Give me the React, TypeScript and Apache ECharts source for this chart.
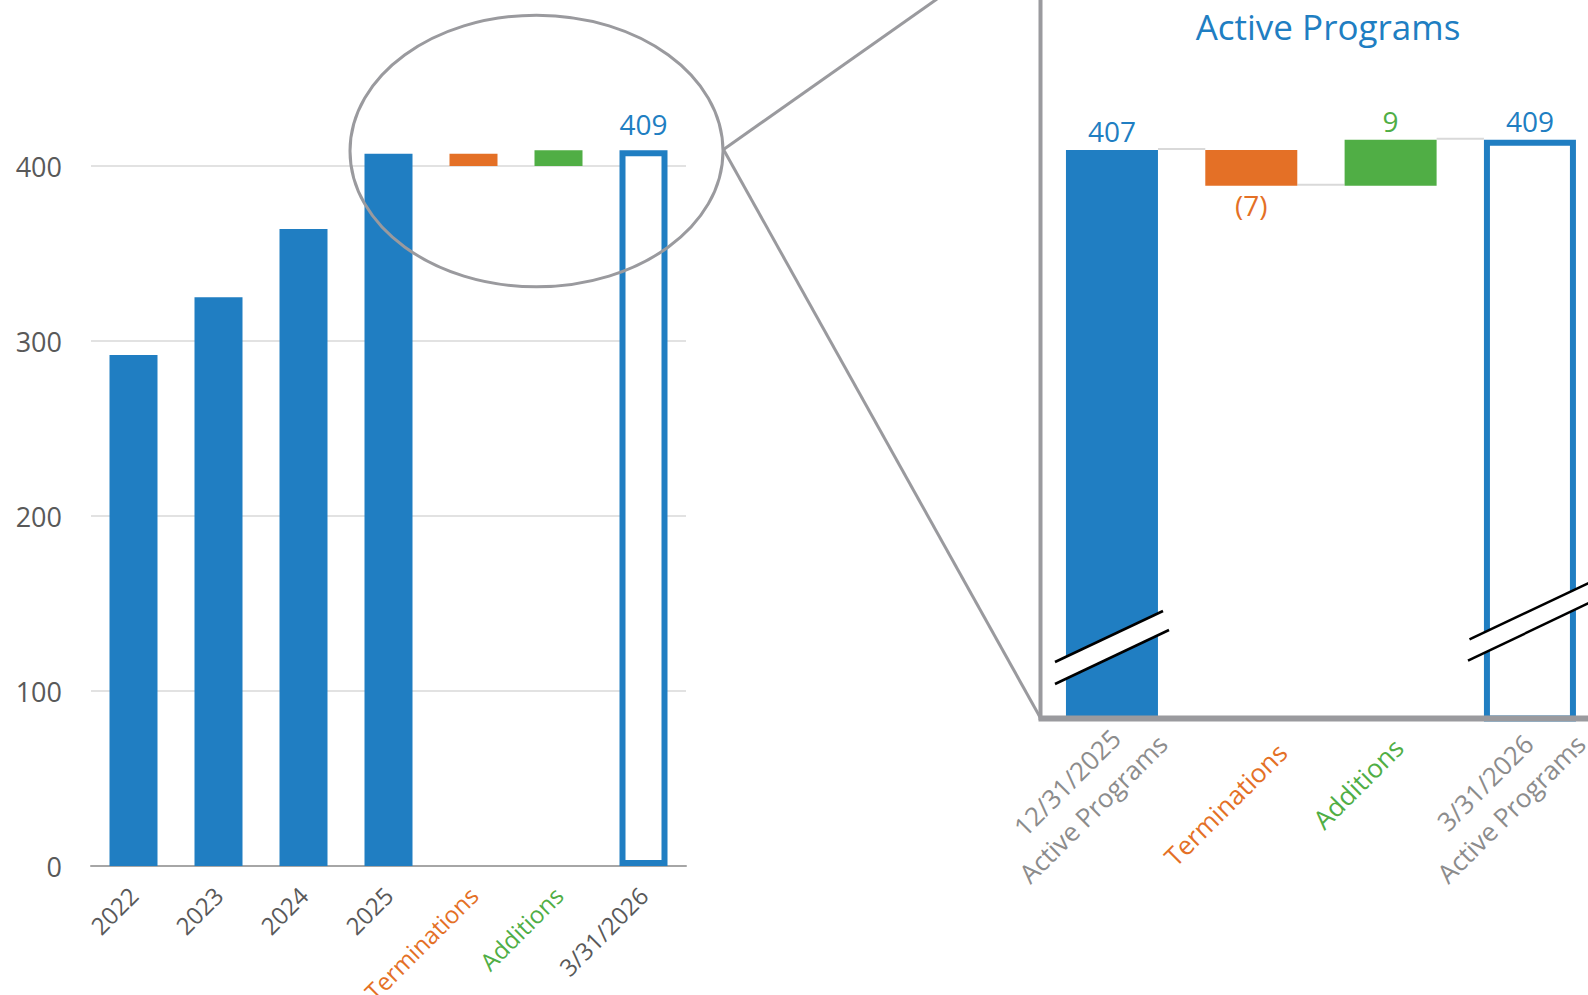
import React, { useEffect, useRef } from 'react';
import * as echarts from 'echarts';

// ---------- data ----------
const yearLabels = ['2022', '2023', '2024', '2025'];
const yearTotals = [292, 325, 364, 407];
const startDate = '12/31/2025';
const startValue = 407;
const terminationsLabel = 'Terminations';
const terminations = -7;
const additionsLabel = 'Additions';
const additions = 9;
const endDate = '3/31/2026';
const endValue = 409;
const totalSuffix = 'Active Programs';
const leftTickInterval = 100;
const titleText = 'Active Programs';

// ---------- styles ----------
const BLUE = '#207EC2';
const ORANGE = '#E47026';
const GREEN = '#50AE45';
const DARK = '#595959';
const LIGHT = '#8C8C8C';
const FRAME = '#9A9A9E';
const FONT = 'Open Sans';

const afterTerm = startValue + terminations; // 400
const afterAdd = afterTerm + additions; // 409

const leftCats = [
  ...yearLabels.map((y) => ({ value: y, textStyle: { color: DARK } })),
  { value: terminationsLabel, textStyle: { color: ORANGE } },
  { value: additionsLabel, textStyle: { color: GREEN } },
  { value: endDate, textStyle: { color: DARK } },
];

const zoomCats = [`${startDate}\n${totalSuffix}`, terminationsLabel, additionsLabel, `${endDate}\n${totalSuffix}`];

const E = '-';

// left waterfall
const leftBase = [...yearLabels.map(() => E), Math.min(startValue, afterTerm), afterTerm, E];
const leftDelta = [
  ...yearLabels.map(() => E),
  { value: Math.abs(terminations), itemStyle: { color: ORANGE } },
  { value: additions, itemStyle: { color: GREEN } },
  E,
];
const leftTotals = [...yearTotals, E, E, E];
const leftEnd = [...yearLabels.map(() => E), E, E, endValue];

// zoom waterfall
const zoomBase = [E, Math.min(startValue, afterTerm), afterTerm, E];
const zoomDelta = [
  E,
  {
    value: Math.abs(terminations),
    itemStyle: { color: ORANGE },
    label: { show: true, position: 'bottom', color: ORANGE, formatter: `(${Math.abs(terminations)})` },
  },
  {
    value: additions,
    itemStyle: { color: GREEN },
    label: { show: true, position: 'top', color: GREEN, formatter: `${additions}` },
  },
  E,
];
const zoomTotals = [startValue, E, E, E];
const zoomEnd = [E, E, E, endValue];
const connectors = [
  [0, startValue],
  [1, afterTerm],
  [2, afterAdd],
];

const LEFT_BAR = 48;
const ZOOM_BAR = 92;

const outlineStyle = { color: '#FFFFFF', borderColor: BLUE, borderWidth: 6 };

const zoomLabelFormatter = (value: string) => {
  if (value === terminationsLabel) return `{o|${value}}`;
  if (value === additionsLabel) return `{a|${value}}`;
  return value
    .split('\n')
    .map((line) => `{g|${line}}`)
    .join('\n');
};

const option: any = {
  animation: false,
  backgroundColor: '#FFFFFF',
  textStyle: { fontFamily: FONT },
  grid: [
    { left: 91, width: 595, top: -9, bottom: 129, outerBoundsMode: 'none', containLabel: false },
    { left: 1042.3, width: 557.3, top: 1.5, bottom: 276.5, outerBoundsMode: 'none', containLabel: false },
    { left: 1079.8, width: 557.3, top: 1, bottom: 277, outerBoundsMode: 'none', containLabel: false },
  ],
  xAxis: [
    {
      gridIndex: 0,
      type: 'category',
      data: leftCats,
      axisLine: { show: true, lineStyle: { color: '#A6A6A6', width: 2 } },
      axisTick: { show: false },
      axisLabel: { interval: 0, rotate: 45, margin: 25, fontSize: 24, fontFamily: FONT, color: DARK },
    },
    {
      gridIndex: 1,
      type: 'category',
      data: zoomCats,
      axisLine: { show: false },
      axisTick: { show: false },
      axisLabel: { show: false },
    },
    {
      gridIndex: 2,
      type: 'category',
      data: zoomCats,
      axisLine: { show: false },
      axisTick: { show: false },
      axisLabel: {
        interval: 0,
        rotate: 45,
        margin: 8,
        fontSize: 26,
        lineHeight: 37,
        fontFamily: FONT,
        color: LIGHT,
        formatter: zoomLabelFormatter,
        rich: {
          g: { color: LIGHT, align: 'center', fontSize: 26, lineHeight: 37, fontFamily: FONT },
          o: { color: ORANGE, fontSize: 26, lineHeight: 37, fontFamily: FONT, padding: [21, 20, 0, 0] },
          a: { color: GREEN, fontSize: 26, lineHeight: 37, fontFamily: FONT, padding: [0, 33, 18, 0] },
        },
      },
    },
  ],
  yAxis: [
    {
      gridIndex: 0,
      type: 'value',
      min: 0,
      max: 500,
      interval: leftTickInterval,
      axisLine: { show: false },
      axisTick: { show: false },
      splitLine: { lineStyle: { color: '#D9D9D9', width: 1.5 } },
      axisLabel: { showMaxLabel: false, fontSize: 27, margin: 29, color: DARK, fontFamily: FONT },
    },
    { gridIndex: 1, type: 'value', min: 296, max: 436, show: false },
    { gridIndex: 2, type: 'value', min: 0, max: 1, show: false },
  ],
  series: [
    // left chart
    {
      type: 'bar', xAxisIndex: 0, yAxisIndex: 0, stack: 'L', barWidth: LEFT_BAR,
      data: leftBase, itemStyle: { color: 'transparent' }, silent: true,
    },
    {
      type: 'bar', xAxisIndex: 0, yAxisIndex: 0, stack: 'L', barWidth: LEFT_BAR,
      data: leftDelta,
    },
    {
      type: 'bar', xAxisIndex: 0, yAxisIndex: 0, stack: 'L', barWidth: LEFT_BAR,
      data: leftTotals, itemStyle: { color: BLUE },
    },
    {
      type: 'bar', xAxisIndex: 0, yAxisIndex: 0, stack: 'L', barWidth: LEFT_BAR,
      data: leftEnd, itemStyle: outlineStyle,
      label: { show: true, position: 'top', distance: 12, color: BLUE, fontSize: 28, fontFamily: FONT },
    },
    // zoom chart
    {
      type: 'bar', xAxisIndex: 1, yAxisIndex: 1, stack: 'Z', barWidth: ZOOM_BAR, clip: true,
      data: zoomBase, itemStyle: { color: 'transparent' }, silent: true,
    },
    {
      type: 'bar', xAxisIndex: 1, yAxisIndex: 1, stack: 'Z', barWidth: ZOOM_BAR, clip: true,
      data: zoomDelta,
      label: { fontSize: 28, fontFamily: FONT, distance: 5 },
    },
    {
      type: 'bar', xAxisIndex: 1, yAxisIndex: 1, stack: 'Z', barWidth: ZOOM_BAR, clip: true,
      data: zoomTotals, itemStyle: { color: BLUE },
      label: { show: true, position: 'top', distance: 5, color: BLUE, fontSize: 28, fontFamily: FONT },
    },
    {
      type: 'bar', xAxisIndex: 1, yAxisIndex: 1, stack: 'Z', barWidth: ZOOM_BAR, clip: true,
      data: zoomEnd, itemStyle: outlineStyle,
      label: { show: true, position: 'top', distance: 5, color: BLUE, fontSize: 28, fontFamily: FONT },
    },
    {
      type: 'custom', xAxisIndex: 1, yAxisIndex: 1, z: 1, silent: true,
      data: connectors,
      renderItem: (params: any, api: any) => {
        const i = api.value(0);
        const lvl = api.value(1);
        const p1 = api.coord([i, lvl]);
        const p2 = api.coord([i + 1, lvl]);
        const half = ZOOM_BAR / 2;
        return {
          type: 'line',
          shape: { x1: p1[0] + half, y1: p1[1] - 1, x2: p2[0] - half, y2: p2[1] - 1 },
          style: { stroke: '#D9D9D9', lineWidth: 2 },
        };
      },
    },
  ],
  graphic: [
    {
      type: 'text', x: 1328, y: 26, z: 100,
      style: { text: titleText, fill: BLUE, fontSize: 35, fontFamily: FONT, align: 'center', verticalAlign: 'middle' },
    },
    {
      type: 'ellipse', z: 100, silent: true,
      shape: { cx: 536.5, cy: 151, rx: 186.5, ry: 135.8 },
      style: { fill: 'none', stroke: FRAME, lineWidth: 3 },
    },
    {
      type: 'line', z: 100, silent: true,
      shape: { x1: 723.5, y1: 149.5, x2: 937, y2: -1 },
      style: { stroke: FRAME, lineWidth: 3 },
    },
    {
      type: 'line', z: 100, silent: true,
      shape: { x1: 723.5, y1: 149.5, x2: 1040.5, y2: 718 },
      style: { stroke: FRAME, lineWidth: 3 },
    },
    {
      type: 'line', z: 100, silent: true,
      shape: { x1: 1040.5, y1: -2, x2: 1040.5, y2: 720 },
      style: { stroke: FRAME, lineWidth: 4 },
    },
    {
      type: 'line', z: 100, silent: true,
      shape: { x1: 1038.5, y1: 718.5, x2: 1590, y2: 718.5 },
      style: { stroke: FRAME, lineWidth: 6 },
    },
    // axis-break marks
    {
      type: 'polygon', z: 101, silent: true,
      shape: { points: [[1055, 662], [1163, 611], [1169, 630], [1055, 684]] },
      style: { fill: '#FFFFFF' },
    },
    { type: 'line', z: 102, silent: true, shape: { x1: 1055, y1: 662, x2: 1163, y2: 611 }, style: { stroke: '#000', lineWidth: 2.5 } },
    { type: 'line', z: 102, silent: true, shape: { x1: 1055, y1: 684, x2: 1169, y2: 630 }, style: { stroke: '#000', lineWidth: 2.5 } },
    {
      type: 'polygon', z: 101, silent: true,
      shape: { points: [[1469.5, 639.3], [1590, 582.5], [1590, 602.5], [1468, 660.7]] },
      style: { fill: '#FFFFFF' },
    },
    { type: 'line', z: 102, silent: true, shape: { x1: 1469.5, y1: 639.3, x2: 1590, y2: 582.5 }, style: { stroke: '#000', lineWidth: 2.5 } },
    { type: 'line', z: 102, silent: true, shape: { x1: 1468, y1: 660.7, x2: 1590, y2: 602.5 }, style: { stroke: '#000', lineWidth: 2.5 } },
  ],
};

export default function App() {
  const ref = useRef<HTMLDivElement>(null);
  useEffect(() => {
    if (!ref.current) return;
    const chart = echarts.init(ref.current, null, { renderer: 'svg' });
    chart.setOption(option);
    return () => chart.dispose();
  }, []);
  return (
    <div
      ref={ref}
      style={{ position: 'absolute', left: 0, top: 0, width: 1588, height: 995, background: '#fff' }}
    />
  );
}
